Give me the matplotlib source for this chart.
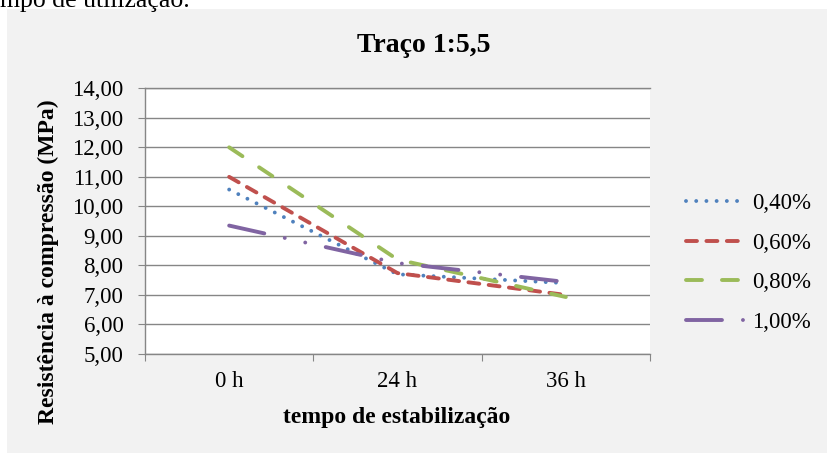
import matplotlib
matplotlib.use("Agg")
import matplotlib.pyplot as plt
from matplotlib.patches import Rectangle

# --- data -------------------------------------------------------------
categories = ["0 h", "24 h", "36 h"]
series_labels = ["0,40%", "0,60%", "0,80%", "1,00%"]
r040 = [10.57, 7.70, 7.40]
r060 = [11.00, 7.74, 7.00]
r080 = [12.00, 8.20, 6.93]
r100 = [9.35, 8.08, 7.44]
y_ticks = [5, 6, 7, 8, 9, 10, 11, 12, 13, 14]
y_tick_labels = ["5,00", "6,00", "7,00", "8,00", "9,00",
                 "10,00", "11,00", "12,00", "13,00", "14,00"]

title = "Traço 1:5,5"
x_title = "tempo de estabilização"
y_title = "Resistência à compressão (MPa)"
caption_tail = "mpo de utilização."

# --- style ------------------------------------------------------------
plt.rcParams["font.family"] = ["Liberation Serif", "DejaVu Serif"]
plt.rcParams["lines.scale_dashes"] = False

W, H = 827, 454
fig = plt.figure(figsize=(W / 100, H / 100), dpi=100)
fig.patch.set_facecolor("white")


def fx(px):
    return px / W


def fy(py):
    return 1 - py / H


# grey chart area
fig.patches.append(Rectangle((fx(7), fy(453)), fx(827) - fx(7), fy(9) - fy(453),
                             transform=fig.transFigure, facecolor="#f2f2f2",
                             edgecolor="none", zorder=0))

# end of the paragraph above the chart
fig.text(0, fy(7), caption_tail, fontsize=18.5, ha="left", va="baseline",
         color="black")

ax = fig.add_axes([fx(145), fy(354), fx(650) - fx(145), fy(88.3) - fy(354)])
ax.set_facecolor("white")
ax.set_zorder(1)

grid_c = "#868686"
lw = 2.8
positions = [i + 0.5 for i in range(len(categories))]

styles = [
    ("#4F81BD", (0, (0.01, 7.34))),
    ("#C0504D", (0, (7.9, 6.8))),
    ("#9BBB59", (0, (11.5, 14.4))),
    ("#8064A2", (0, (25.9, 15.1, 0.01, 15.1, 0.01, 15.1))),
]
handles = []
for vals, (col, ls), lab in zip([r040, r060, r080, r100], styles, series_labels):
    ln, = ax.plot(positions, vals, color=col, lw=lw, linestyle=ls,
                  dash_capstyle="round", solid_capstyle="round", label=lab,
                  zorder=3)
    handles.append(ln)

ax.set_xlim(0, len(categories))
ax.set_ylim(y_ticks[0], y_ticks[-1])

ax.set_yticks(y_ticks)
ax.set_yticklabels(y_tick_labels)
ax.yaxis.grid(True, color=grid_c, lw=1.0)
ax.set_axisbelow(True)

ax.set_xticks(range(len(categories) + 1))
ax.set_xticklabels([])
ax.set_xticks(positions, minor=True)
ax.set_xticklabels(categories, minor=True)

ax.tick_params(axis="y", direction="out", length=5, width=0.8, color=grid_c,
               labelsize=16.5, pad=10.5)
ax.tick_params(axis="x", which="major", direction="out", length=5, width=0.8,
               color=grid_c)
ax.tick_params(axis="x", which="minor", length=0, labelsize=16.5, pad=12)

for side in ["left", "bottom", "top"]:
    ax.spines[side].set_color(grid_c)
    ax.spines[side].set_linewidth(1.0)
ax.spines["right"].set_visible(False)

fig.text(fx(423.5), fy(45), title, fontsize=20, fontweight="bold",
         ha="center", va="center")
fig.text(fx(397), fy(417), x_title, fontsize=17, fontweight="bold",
         ha="center", va="center")
fig.text(fx(48), fy(262), y_title, fontsize=17, fontweight="bold",
         ha="center", va="center", rotation=90)

fig.legend(handles=handles, labels=series_labels, loc="center left",
           bbox_to_anchor=(fx(686), fy(263)), bbox_transform=fig.transFigure,
           frameon=False, borderpad=0, borderaxespad=0, handlelength=2.62,
           handletextpad=0.26, labelspacing=0.82, prop={"size": 16.5})

fig.savefig("out.png", dpi=100)
